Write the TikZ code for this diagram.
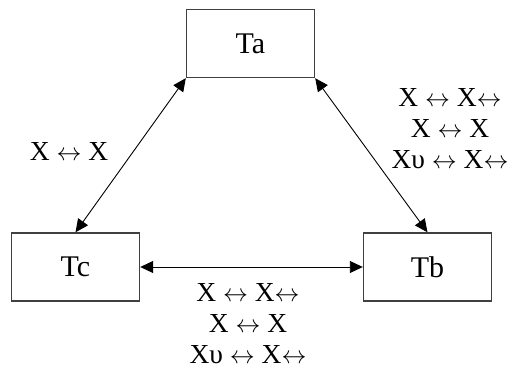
\documentclass[tikz,border=0pt]{standalone}
\usepackage{fontspec}
\setmainfont{Liberation Serif}
\usepackage{xcolor}
\usepackage{tikz}
\usetikzlibrary{arrows.meta}
\definecolor{frame}{HTML}{404040}
\definecolor{ink}{HTML}{000000}

\newcommand{\lr}{$\leftrightarrow$}

\tikzset{
  tbox/.style={draw=frame, line width=1.4pt, minimum width=128pt, minimum height=68pt,
    inner sep=0pt, font=\fontsize{30}{34}\selectfont},
  link/.style={draw=ink, line width=0.9pt, {Triangle[length=13pt,width=12pt]}-{Triangle[length=13pt,width=12pt]}},
  rel/.style={align=center, inner sep=0pt, font=\fontsize{27.5}{31}\selectfont}
}

\begin{document}
\begin{tikzpicture}[x=1pt, y=-1pt]
  \useasboundingbox (0,0) rectangle (510,371);
  % the three boxes
  \node[tbox] (ta) at (250.5,43.5) {Ta};
  \node[tbox] (tc) at (75.5,267) {Tc};
  \node[tbox] (tb) at (427.5,267) {Tb};
  % connectors
  \draw[link] (ta.south west) -- (tc.north);
  \draw[link] (ta.south east) -- (tb.north);
  \draw[link] (tc.east) -- (tb.west);
  % labels
  \node[rel] (lac) at (69,151) {X \lr{} X};
  \node[rel] (lab) at (450,129) {X \lr{} X\lr\\X \lr{} X\\Xυ \lr{} X\lr};
  \node[rel] (lcb) at (248,324) {X \lr{} X\lr\\X \lr{} X\\Xυ \lr{} X\lr};
\end{tikzpicture}
\end{document}
